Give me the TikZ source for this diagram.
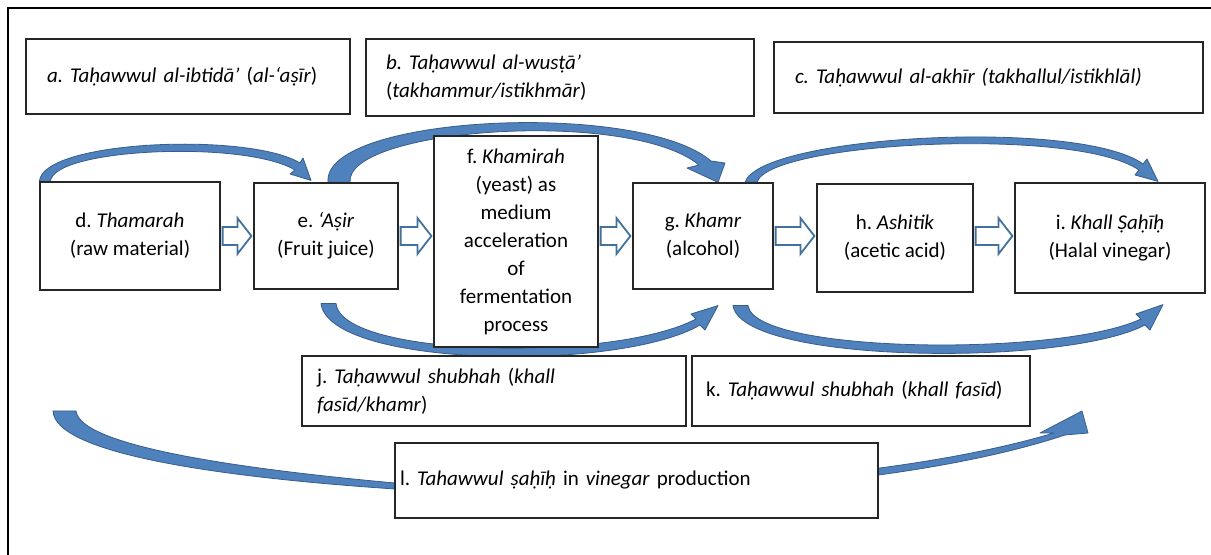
\documentclass[tikz,border=0pt]{standalone}
\usepackage{fontspec}
\setmainfont{Carlito}
\usepackage{tikz}
\usetikzlibrary{positioning,calc,backgrounds}
\frenchspacing
\definecolor{arcblue}{RGB}{79,129,189}
\definecolor{arcedge}{RGB}{56,93,138}
\definecolor{blockedge}{RGB}{65,113,156}
\tikzset{
  box/.style={draw=black!85,line width=0.6pt,fill=white,
              font=\fontsize{10.5}{14}\selectfont},
  leftbox/.style={box,align=left,inner ysep=0pt},
  midbox/.style={box,align=center,inner sep=0pt},
  band/.style={fill=arcblue,draw=arcedge,line width=0.4pt,line join=round},
  hollow/.style={draw=blockedge,line width=0.9pt,fill=white,line join=miter},
  frame/.style={draw=black,line width=1.2pt},
}

\begin{document}
\begin{tikzpicture}[x=0.5pt,y=-0.5pt]
  \useasboundingbox (0,0) rectangle (1211,555);
  \draw[frame] (8,8) rectangle (1240,580);
  % stages of change
  \node[leftbox,text width=141pt,inner xsep=10.5pt,minimum height=37.5pt] (a) at (188,76.5)
    {\textit{a. Taḥawwul al-ibtidā’} (\textit{al-‘aṣīr})};
  \node[leftbox,text width=174pt,inner xsep=10pt,minimum height=38.5pt] (b) at (560,77.5)
    {\textit{b. Taḥawwul al-wusṭā’}\\(\textit{takhammur/istikhmār})};
  \node[leftbox,text width=193.5pt,inner xsep=10.5pt,minimum height=35.5pt] (c) at (988.5,77.5)
    {\textit{c. Taḥawwul al-akhīr (takhallul/istikhlāl)}};
  % products
  \node[midbox,minimum width=90pt,minimum height=54pt] (d) at (130,236)
    {d. \textit{Thamarah}\\(raw material)};
  \node[midbox,minimum width=72pt,minimum height=53pt] (e) at (326,236)
    {e. \textit{‘Aṣir}\\(Fruit juice)};
  \node[midbox,minimum width=82pt,minimum height=105.5pt] (f) at (516,241.5)
    {f. \textit{Khamirah}\\(yeast) as\\medium\\acceleration\\of\\fermentation\\process};
  \node[midbox,minimum width=70pt,minimum height=53pt] (g) at (703,236)
    {g. \textit{Khamr}\\(alcohol)};
  \node[midbox,minimum width=78pt,minimum height=54pt] (h) at (895,238)
    {h. \textit{Ashitik}\\(acetic acid)};
  \node[midbox,minimum width=95pt,minimum height=55pt] (i) at (1110,238)
    {i. \textit{Khall Ṣaḥīḥ}\\(Halal vinegar)};
  % doubtful and valid change
  \node[leftbox,text width=177pt,inner xsep=7.5pt,minimum height=35pt] (j) at (494,391)
    {j. \textit{Taḥawwul shubhah} (\textit{khall}\\\textit{fasīd/khamr})};
  \node[leftbox,text width=155pt,inner xsep=7pt,minimum height=35pt] (k) at (861,391)
    {k. \textit{Taḥawwul shubhah} (\textit{khall fasīd})};
  \node[leftbox,text width=236.5pt,inner xsep=2.5pt,minimum height=37.5pt] (l) at (636.5,480.5)
    {l. \textit{Tahawwul ṣaḥīḥ} in \textit{vinegar} production};
  % block arrows
  \foreach \a/\b in {d/e,e/f,f/g,g/h,h/i}
    \draw[hollow] let \p1=(\a.east), \p2=(\b.west), \p3=(d.east) in
      (\x1+1pt,\y3+4.5pt) -- (\x2-8pt,\y3+4.5pt) -- (\x2-8pt,\y3+9pt) -- (\x2-1pt,\y3)
      -- (\x2-8pt,\y3-9pt) -- (\x2-8pt,\y3-4.5pt) -- (\x1+1pt,\y3-4.5pt) -- cycle;
  % curved arrows
  \coordinate (ltail) at (53,411);
  \coordinate (lhead) at (1082,411);
  \begin{scope}[on background layer]
    \fill[band] (d.north west) .. controls (42,140) and (250,132) .. (300,163)
      -- (303,158) -- ($(e.north)+(-15,-2)$) -- (290,174) -- (295,170)
      .. controls (245,140) and (53,148) .. ($(d.north west)+(11,0)$) -- cycle;
    \fill[band] ($(e.north)+(2,0)$) .. controls (322,115) and (640,100) .. (711,161)
      -- (725,163) -- ($(g.north)+(15,0)$) -- (687,168) -- (699,165)
      .. controls (630,108) and (345,128) .. ($(e.north)+(24,0)$) -- cycle;
    \fill[band] ($(g.north)+(42,0)$) .. controls (760,135) and (1080,118) .. (1143,164)
      -- (1147,159) -- ($(i.north)+(48,-1)$) -- (1135,175) -- (1139,170)
      .. controls (1075,126) and (768,142) .. ($(g.north)+(54,0)$) -- cycle;
    \fill[band] ($(e.south)+(-5,14)$) .. controls (330,368) and (620,372) .. (700,325)
      -- (705,330) -- ($(g.south)+(15,16)$) -- (691,314) -- (696,319)
      .. controls (615,362) and (342,358) .. ($(e.south)+(10,14)$) -- cycle;
    \fill[band] ($(g.south)+(30,16)$) .. controls (742,364) and (1065,367) .. (1145,325)
      -- (1150,330) -- ($(i.south)+(53,11)$) -- (1136,314) -- (1141,319)
      .. controls (1060,357) and (755,354) .. ($(g.south)+(45,16)$) -- cycle;
    \fill[band] (ltail) .. controls (55,455) and (230,478) .. (395,489)
      .. controls (600,505) and (900,490) .. (1065,435)
      -- (1088,433) -- (lhead) -- (1040,433) -- (1054,433)
      .. controls (890,482) and (600,498) .. (395,483)
      .. controls (230,468) and (80,445) .. ($(ltail)+(23,0)$) -- cycle;
  \end{scope}
\end{tikzpicture}
\end{document}
